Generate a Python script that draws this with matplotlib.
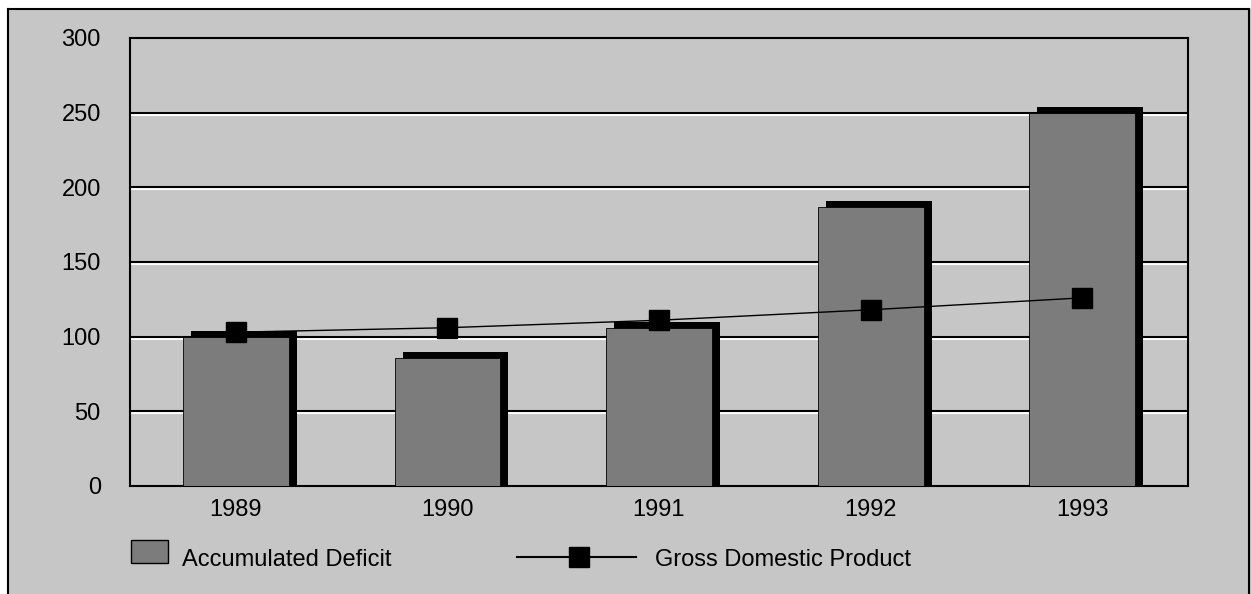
import matplotlib
matplotlib.use('Agg')

import numpy as np
from matplotlib import pyplot as plt
from matplotlib import transforms
from matplotlib.patches import Rectangle
from matplotlib.lines import Line2D

years = ["1989", "1990", "1991", "1992", "1993"]
deficit = [100, 86, 106, 187, 250]
gdp = [103, 106, 111, 118, 126]
yticks = [0, 50, 100, 150, 200, 250, 300]

bg = "#c6c6c6"
bar_col = "#7c7c7c"
W, H = 1251, 594

plt.rcParams['font.family'] = ['Liberation Sans', 'DejaVu Sans']

fig = plt.figure(figsize=(W / 100, H / 100), dpi=100, facecolor="white")

# gray panel with a black edge on the left, top and right
fig.patches.append(Rectangle((8 / W, 0), 1 - 8 / W, 1 - 9 / H,
                             transform=fig.transFigure, facecolor=bg,
                             edgecolor="none", zorder=-5))
for xs, ys in [([8, 8], [9, 594]), ([8, 1249], [9, 9]), ([1249, 1249], [9, 594])]:
    fig.lines.append(Line2D([v / W for v in xs], [1 - v / H for v in ys],
                            transform=fig.transFigure, color="black", lw=1.5))

ax = fig.add_axes([130 / W, 108 / H, 1058 / W, 448 / H])
ax.set_facecolor(bg)

x = np.arange(len(years))

# gridlines: black with white underneath
white_off = transforms.offset_copy(ax.get_yaxis_transform(), fig=fig, x=0, y=-2, units='dots')
for v in yticks[1:-1]:
    ax.plot([0, 1], [v, v], color="white", lw=1.5, transform=white_off, zorder=1)
    ax.axhline(v, color="black", lw=1.5, zorder=1)

# shadows then bars
ax.bar(x + 0.038, [d + 4 for d in deficit], width=0.5, color="black", zorder=2)
ax.bar(x, deficit, width=0.5, color=bar_col, edgecolor="black", lw=0.6, zorder=3)

ax.plot(x, gdp, color="black", lw=1, marker="s", markersize=14.5, zorder=4)

ax.set_xlim(-0.5, len(years) - 0.5)
ax.set_ylim(0, 300)
ax.set_yticks(yticks)
ax.set_xticks(x)
ax.set_xticklabels(years)
ax.tick_params(length=0, labelsize=17)
ax.tick_params(axis='x', pad=9)
ax.tick_params(axis='y', pad=21)
for s in ax.spines.values():
    s.set_linewidth(1.5)
    s.set_color("black")

# legend drawn by hand in figure pixels
fig.patches.append(Rectangle((131 / W, 1 - 563 / H), 37 / W, 23 / H,
                             transform=fig.transFigure, facecolor=bar_col,
                             edgecolor="black", lw=1))
fig.text(182 / W, 1 - 566 / H, "Accumulated Deficit", fontsize=17, va="baseline")
ly = 1 - 557 / H
fig.lines.append(Line2D([517 / W, 636 / W], [ly, ly], transform=fig.transFigure,
                        color="black", lw=1.5))
fig.lines.append(Line2D([579 / W], [ly], transform=fig.transFigure,
                        color="black", marker="s", markersize=14.5))
fig.text(655 / W, 1 - 566 / H, "Gross Domestic Product", fontsize=17, va="baseline")

plt.savefig("out.png", dpi=100, facecolor="white")
